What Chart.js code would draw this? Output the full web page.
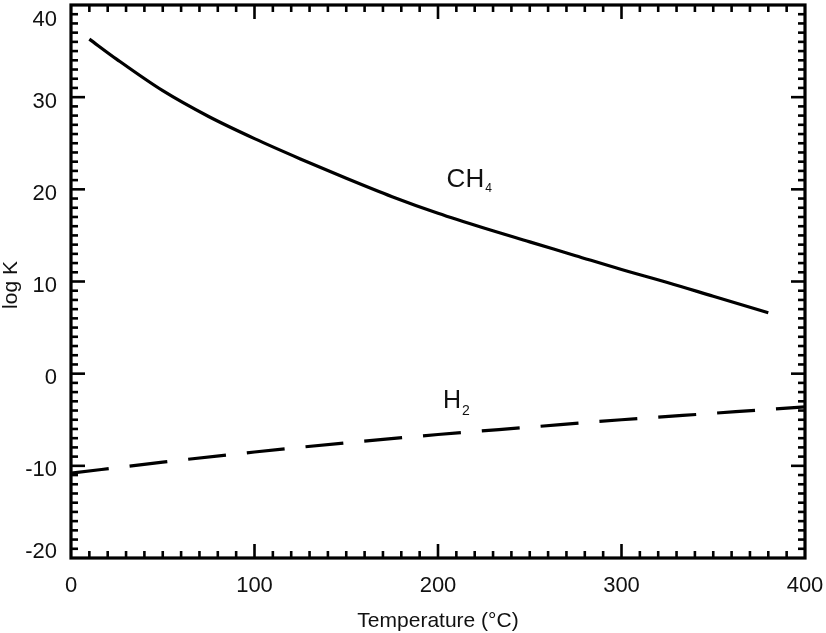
<!DOCTYPE html>
<html>
<head>
<meta charset="utf-8">
<title>log K vs Temperature</title>
<script src="https://cdn.jsdelivr.net/npm/chart.js@4.4.1/dist/chart.umd.min.js"></script>
<style>
  html, body { margin: 0; padding: 0; background: #fff; }
  #wrap { width: 826px; height: 633px; }
</style>
</head>
<body>
<div id="wrap"><canvas id="myChart" width="826" height="633"></canvas></div>
<script>
// values
const ch4Temp = [10, 25, 50, 75, 100, 125, 150, 175, 200, 225, 250, 275, 300, 325, 350, 380];
const ch4LogK = [36.3, 34.1, 30.7, 27.9, 25.5, 23.3, 21.2, 19.2, 17.4, 15.8, 14.3, 12.8, 11.3, 9.9, 8.4, 6.6];

const h2Temp = [0, 50, 100, 150, 200, 250, 300, 350, 400];
const h2LogK = [-10.8, -9.6, -8.5, -7.5, -6.6, -5.8, -5.0, -4.3, -3.6];

const xTicks = [0, 100, 200, 300, 400];
const yTicks = [-20, -10, 0, 10, 20, 30, 40];

// label anchors in data units (temperature, log K baseline)
const ch4Label = [204.7, 20.3];
const h2Label = [202.7, -3.7];

const FONT = '"Liberation Sans", Arial, Helvetica, sans-serif';

function toXY(xs, ys) {
  return xs.map((v, i) => ({ x: v, y: ys[i] }));
}

function line(ctx, x1, y1, x2, y2) {
  ctx.beginPath();
  ctx.moveTo(x1, y1);
  ctx.lineTo(x2, y2);
  ctx.stroke();
}

// frame, inward ticks on all four sides, labels and titles
const frameTicks = {
  id: 'frameTicks',
  afterDraw(chart) {
    const { ctx, chartArea: a, scales: { x, y } } = chart;
    ctx.save();
    ctx.strokeStyle = '#000';
    ctx.fillStyle = '#111';
    ctx.lineCap = 'butt';

    // x ticks, minor every 10
    ctx.lineWidth = 2.6;
    for (let v = x.min + 10; v < x.max; v += 10) {
      const px = x.getPixelForValue(v);
      const len = v % 100 === 0 ? 14 : 7;
      line(ctx, px, a.bottom, px, a.bottom - len);
      line(ctx, px, a.top, px, a.top + len);
    }
    // y ticks, minor every 1
    for (let v = y.min + 1; v < y.max; v += 1) {
      const py = y.getPixelForValue(v);
      const len = v % 10 === 0 ? 14 : 7;
      line(ctx, a.left, py, a.left + len, py);
      line(ctx, a.right, py, a.right - len, py);
    }

    ctx.lineWidth = 3.2;
    ctx.strokeRect(a.left, a.top, a.right - a.left, a.bottom - a.top);

    // tick labels
    ctx.font = '22px ' + FONT;
    ctx.textAlign = 'center';
    ctx.textBaseline = 'alphabetic';
    x.ticks.forEach((t) => {
      if (!xTicks.includes(t.value)) return;
      ctx.fillText(String(t.value), x.getPixelForValue(t.value), 592);
    });
    ctx.textAlign = 'right';
    ctx.textBaseline = 'middle';
    y.ticks.forEach((t) => {
      if (!yTicks.includes(t.value)) return;
      let ly = y.getPixelForValue(t.value) + 4.5;
      ly = Math.max(ly, a.top + 15);
      ly = Math.min(ly, a.bottom - 6.5);
      ctx.fillText(String(t.value), a.left - 14, ly);
    });

    // axis titles
    ctx.font = '21px ' + FONT;
    ctx.textAlign = 'center';
    ctx.textBaseline = 'alphabetic';
    ctx.fillText('Temperature (\u00B0C)', (a.left + a.right) / 2, 627);
    ctx.save();
    ctx.translate(17, 285);
    ctx.rotate(-Math.PI / 2);
    ctx.fillText('log K', 0, 0);
    ctx.restore();

    // curve labels with subscripts
    ctx.textAlign = 'left';
    let lx = x.getPixelForValue(ch4Label[0]);
    let ly = y.getPixelForValue(ch4Label[1]);
    ctx.font = '26px ' + FONT;
    ctx.fillText('CH', lx, ly);
    let w = ctx.measureText('CH').width;
    ctx.font = '12px ' + FONT;
    ctx.fillText('4', lx + w + 1, ly + 5);

    lx = x.getPixelForValue(h2Label[0]);
    ly = y.getPixelForValue(h2Label[1]);
    ctx.font = '25px ' + FONT;
    ctx.fillText('H', lx, ly);
    w = ctx.measureText('H').width;
    ctx.font = '14px ' + FONT;
    ctx.fillText('2', lx + w + 1, ly + 7);

    ctx.restore();
  }
};

const ctx = document.getElementById('myChart');

new Chart(ctx, {
  type: 'line',
  data: {
    datasets: [{
      label: 'CH4',
      data: toXY(ch4Temp, ch4LogK),
      borderColor: '#000',
      borderWidth: 3.2,
      cubicInterpolationMode: 'monotone',
      pointRadius: 0
    }, {
      label: 'H2',
      data: toXY(h2Temp, h2LogK),
      borderColor: '#000',
      borderWidth: 3.2,
      borderDash: [38, 21],
      cubicInterpolationMode: 'monotone',
      pointRadius: 0
    }]
  },
  options: {
    responsive: false,
    animation: false,
    devicePixelRatio: 1,
    layout: { padding: { left: 0, top: 5, right: 21, bottom: 0 } },
    plugins: {
      legend: { display: false },
      tooltip: { enabled: false }
    },
    scales: {
      x: {
        type: 'linear',
        min: 0,
        max: 400,
        ticks: { display: false, stepSize: 100 },
        grid: { display: false },
        border: { display: false },
        afterFit: (s) => { s.height = 75; }
      },
      y: {
        type: 'linear',
        min: -20,
        max: 40,
        ticks: { display: false, stepSize: 10 },
        grid: { display: false },
        border: { display: false },
        afterFit: (s) => { s.width = 71; }
      }
    }
  },
  plugins: [frameTicks]
});
</script>
</body>
</html>
